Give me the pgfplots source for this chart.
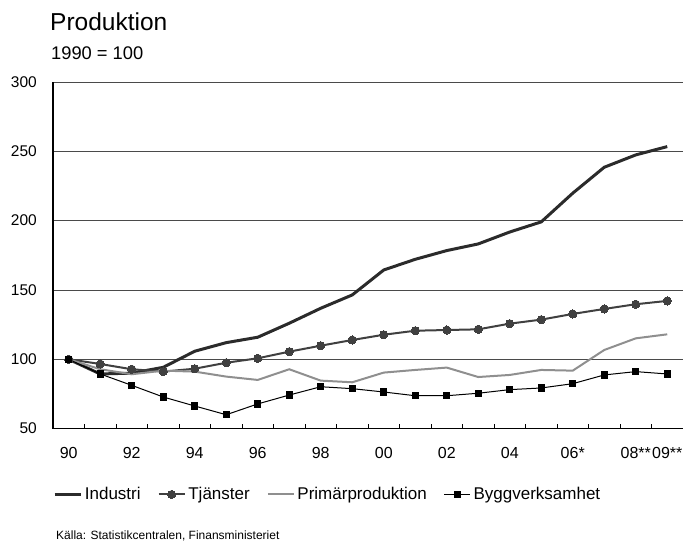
\documentclass[border=0pt]{standalone}
\usepackage{pgfplots}
\pgfplotsset{compat=1.18}
\usepackage{fontspec}
\setmainfont{Liberation Sans}
\definecolor{ind}{HTML}{2B2B2B}
\definecolor{tja}{HTML}{404040}
\definecolor{pri}{HTML}{8F8F8F}
\definecolor{grd}{HTML}{4A4A4A}
\begin{document}
\begin{tikzpicture}[x=1pt,y=1pt]
\useasboundingbox (-53,-124.4) rectangle (630,428.6);
\begin{axis}[
  scale only axis, width=630pt, height=346.6pt,
  at={(0,0)}, anchor=south west,
  xmin=-0.5, xmax=19.5, ymin=50, ymax=300,
  axis x line*=bottom, axis y line*=left,
  axis line style={-, black, line width=1.2pt},
  ytick={50,100,...,300},
  ytick style={draw=none},
  ymajorgrids, grid style={grd, line width=0.8pt},
  xtick={0,...,19},
  xticklabels={90,,92,,94,,96,,98,,00,,02,,04,,06*,,08**,09**},
  major x tick style={draw=none},
  minor xtick={0.5,1.5,...,18.5},
  minor x tick style={black, line width=0.8pt},
  minor tick length=5pt, tick align=inside,
  /pgf/number format/assume math mode=true,
  yticklabel style={font=\fontsize{15.5}{18}\selectfont, inner sep=0pt, anchor=east, xshift=-16pt},
  xticklabel style={font=\fontsize{16}{19}\selectfont, inner sep=0pt, anchor=north, yshift=-19pt},
  legend columns=4,
  legend style={at={(0,-0.19)}, anchor=west, draw=none, fill=none, inner sep=0pt,
    nodes={inner sep=0pt, font=\fontsize{17}{20}\selectfont},
    /tikz/every odd column/.append style={column sep=2.7pt},
    /tikz/every even column/.append style={column sep=17pt}},
  legend image code/.code={\draw[mark repeat=2,mark phase=2,#1] plot coordinates {(0pt,0pt) (13pt,0pt) (26pt,0pt)};},
]
\addplot[ind, line width=3pt, mark=none] coordinates {
(0,100)(1,89.4)(2,90)(3,94.2)(4,105.8)(5,112)(6,115.9)(7,126)(8,136.8)(9,146.4)
(10,164.4)(11,172.1)(12,178.4)(13,183.2)(14,191.8)(15,199.1)(16,219.8)(17,238.5)(18,247.4)(19,253.4)};
\addlegendentry{Industri}
\addplot[tja, line width=2pt, mark=*, mark size=4.1pt, mark options={fill=tja, draw=tja, line width=0pt}] coordinates {
(0,100)(1,96.6)(2,92.8)(3,91.1)(4,93.2)(5,97.5)(6,100.7)(7,105.5)(8,109.8)(9,113.9)
(10,117.7)(11,120.6)(12,121.1)(13,121.6)(14,125.7)(15,128.6)(16,132.7)(17,136.3)(18,139.7)(19,142.1)};
\addlegendentry{Tjänster}
\addplot[pri, line width=2pt, mark=none] coordinates {
(0,100)(1,92.8)(2,89.2)(3,91.8)(4,91.1)(5,87.5)(6,85.1)(7,92.8)(8,84.6)(9,83.4)
(10,90.4)(11,92.3)(12,94)(13,87.2)(14,88.7)(15,92.3)(16,91.8)(17,106.7)(18,115.1)(19,118)};
\addlegendentry{Primärproduktion}
\addplot[black, line width=1pt, mark=square*, mark size=3.2pt, mark options={fill=black, line width=0pt}] coordinates {
(0,100)(1,89.4)(2,81.2)(3,72.8)(4,66.3)(5,60)(6,67.8)(7,74.2)(8,80.2)(9,78.8)
(10,76.4)(11,73.7)(12,73.7)(13,75.5)(14,78.1)(15,79.3)(16,82.4)(17,88.7)(18,91.1)(19,89.4)};
\addlegendentry{Byggverksamhet}
\end{axis}
\node[anchor=base west, inner sep=0pt, font=\fontsize{24.5}{28}\selectfont] at (-3,397.9) {Produktion};
\node[anchor=base west, inner sep=0pt, font=\fontsize{18.3}{22}\selectfont] at (-2,369.3) {1990 = 100};
\node[anchor=base west, inner sep=0pt, font=\fontsize{12}{14}\selectfont] at (3,-111.4) {Källa: Statistikcentralen, Finansministeriet};
\end{tikzpicture}
\end{document}
